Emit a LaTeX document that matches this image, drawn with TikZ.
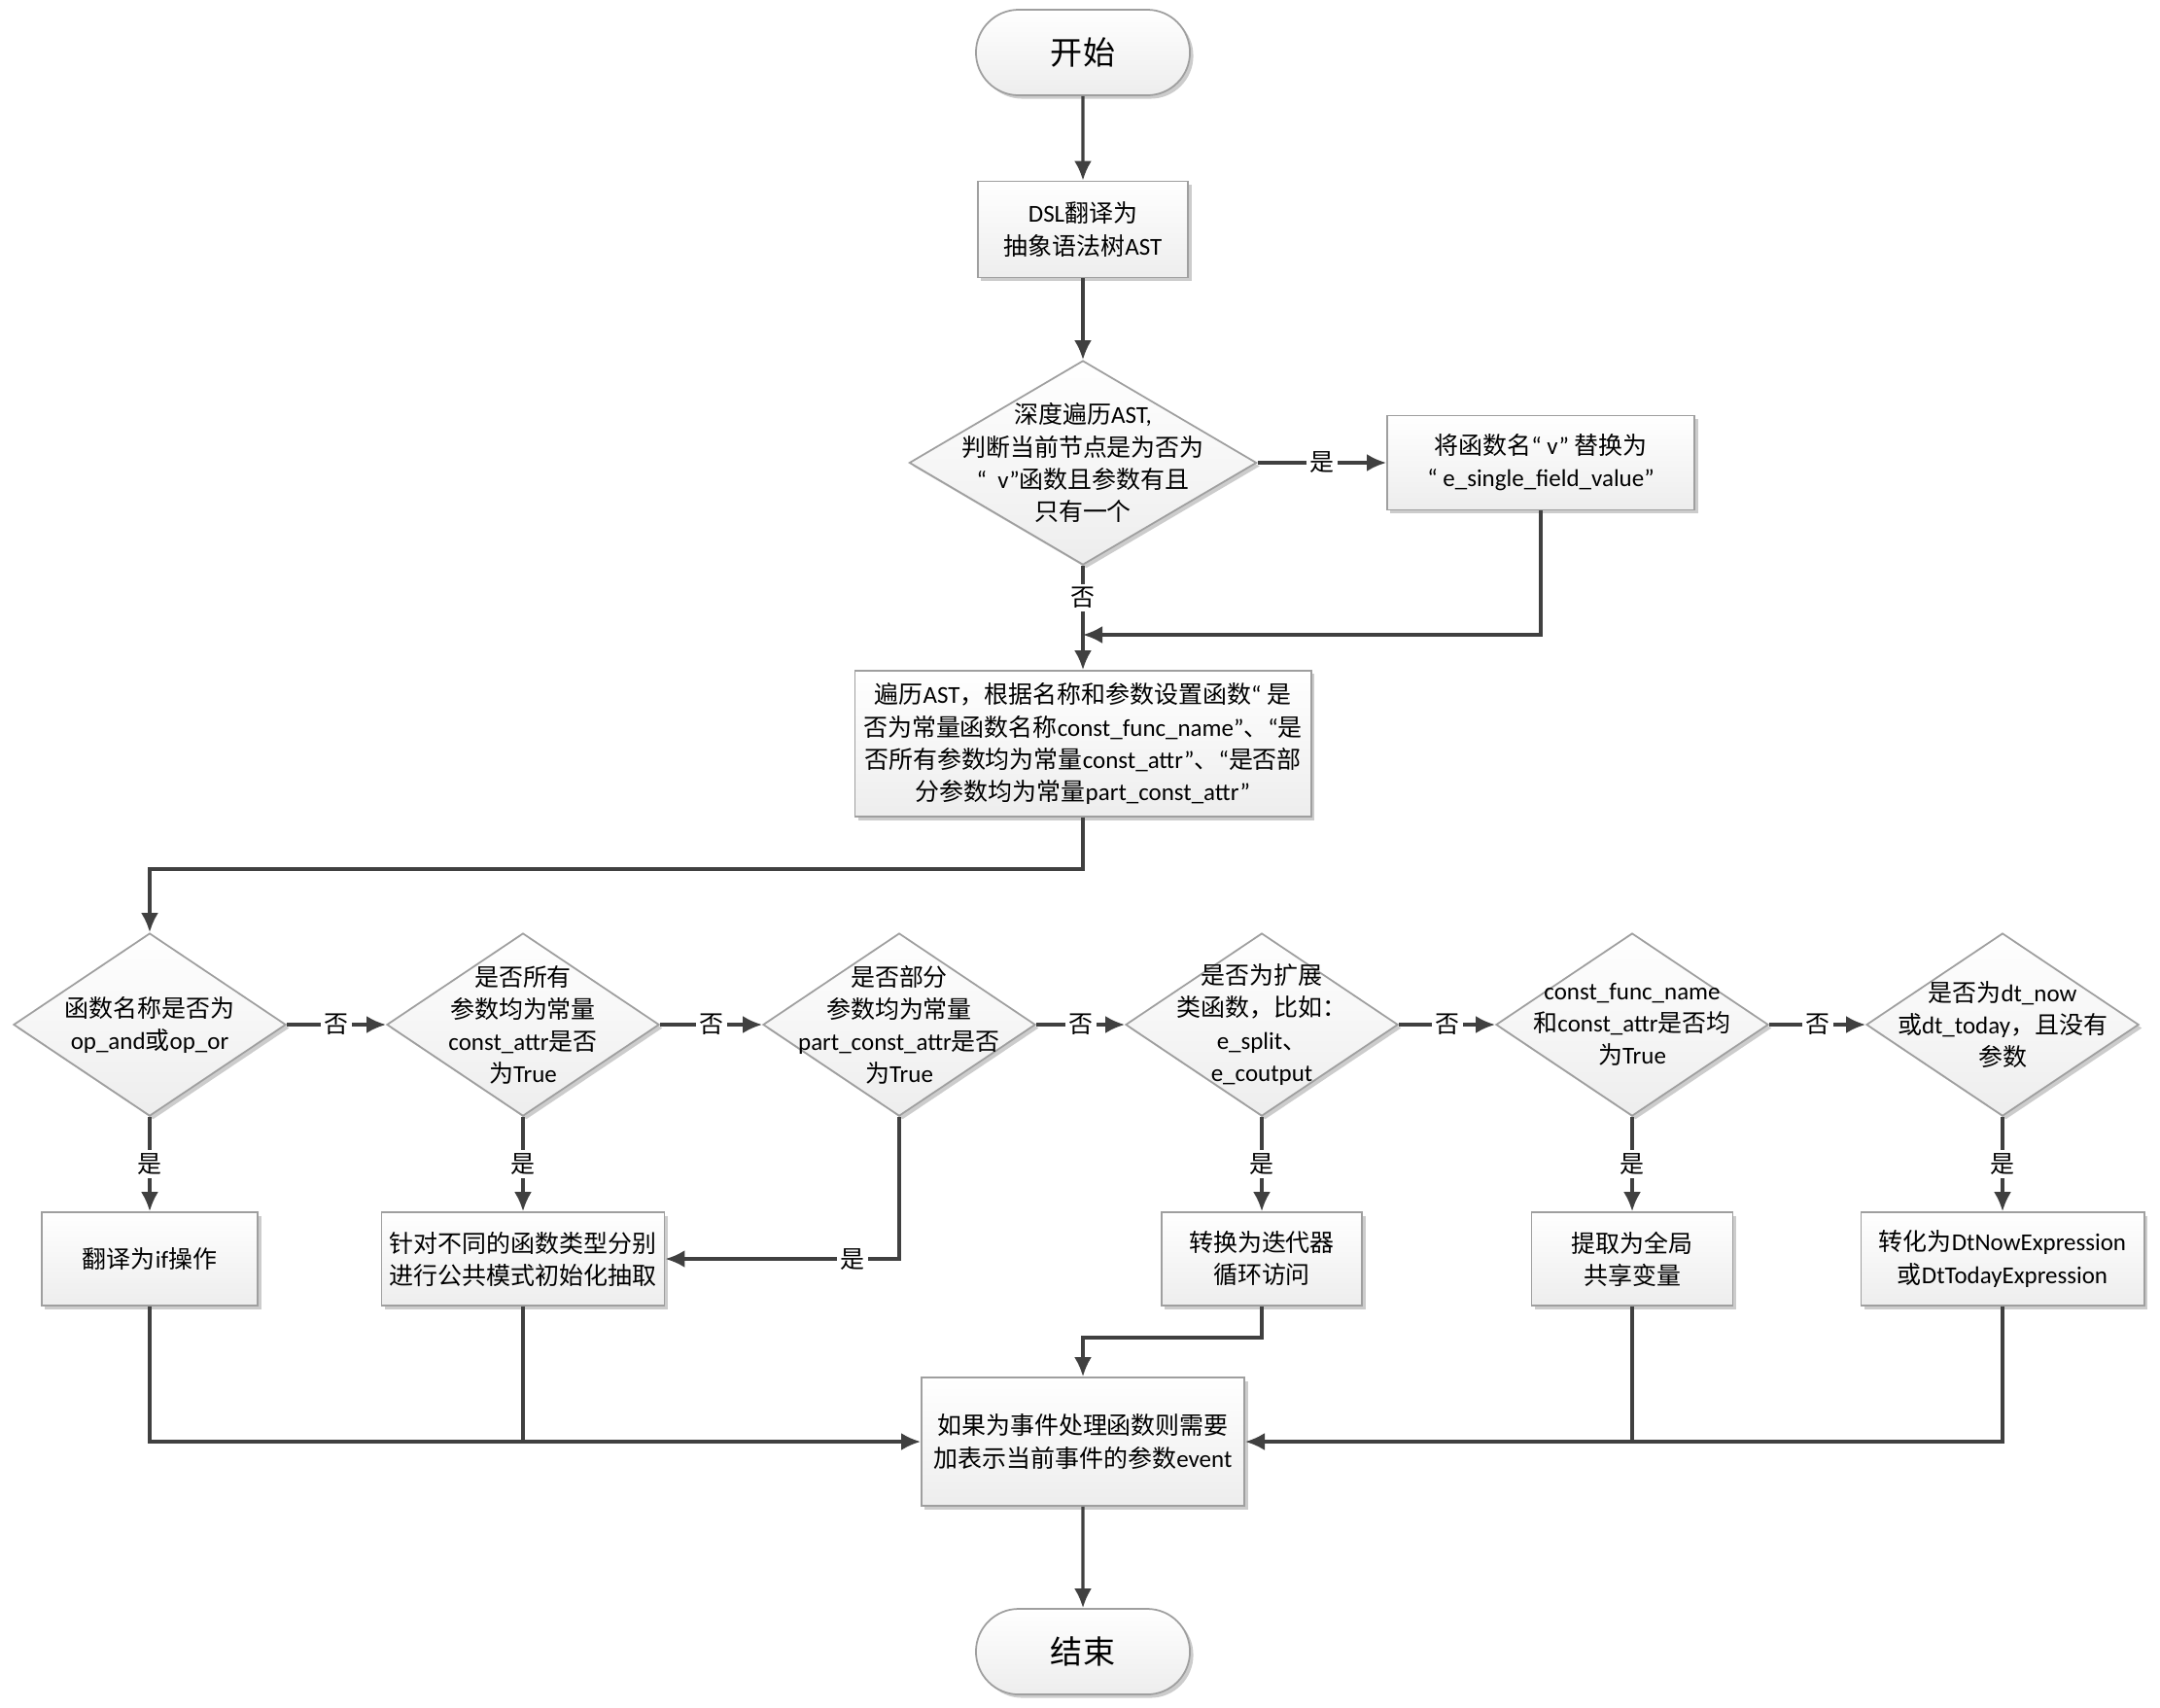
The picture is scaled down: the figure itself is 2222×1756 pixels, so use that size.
\documentclass[tikz,border=0pt]{standalone}
\usepackage{fontspec}
\setmainfont{Carlito}
\newfontfamily\latinfont{Carlito}
\newfontfamily\cjkfont{Noto Sans CJK SC}
\usepackage{tikz}
\usetikzlibrary{arrows.meta,calc,positioning,shapes.geometric,shapes.misc,shadows}

\definecolor{linegray}{HTML}{404040}

% switch to the CJK font for Chinese characters
\newcount\cjkcnt
\newcommand\cjkrange[2]{\cjkcnt=#1\relax
  \loop\XeTeXcharclass\cjkcnt=7\relax
  \ifnum\cjkcnt<#2\relax\advance\cjkcnt by 1\relax\repeat}
\cjkrange{"3000}{"303F}
\cjkrange{"4E00}{"9FFF}
\cjkrange{"FF00}{"FFEF}
\XeTeXcharclass"201C=0
\XeTeXcharclass"201D=0
\XeTeXinterchartoks 0 7 = {\cjkfont}
\XeTeXinterchartoks 4095 7 = {\cjkfont}
\XeTeXinterchartoks 7 0 = {\latinfont}
\XeTeXinterchartoks 7 4095 = {\latinfont}
\XeTeXinterchartokenstate=1

\begin{document}
\begin{tikzpicture}[x=0.01cm,y=-0.01cm,
  font=\fontsize{7.1pt}{9.4pt}\selectfont,
  arr/.style={draw=linegray,line width=0.9pt,-{Latex[length=2mm,width=1.8mm]}},
  link/.style={draw=linegray,line width=0.9pt},
  box/.style={rectangle,draw=gray!75,line width=0.5pt,top color=white,bottom color=gray!14,
    drop shadow={shadow xshift=0.35mm,shadow yshift=-0.35mm,fill=black!20,opacity=1},
    align=center,inner sep=0pt},
  term/.style={box,rounded rectangle,minimum width=2.2cm,minimum height=0.88cm,
    font=\fontsize{9.4pt}{11pt}\selectfont},
  decision/.style={box,diamond,minimum width=2.8cm,minimum height=1.88cm},
  dtext/.style={align=center,inner sep=0pt},
  lbl/.style={fill=white,inner sep=1pt}]
  \useasboundingbox (0,0) rectangle (2222,1756);

  % top part
  \node[term] (start) at (1114,54) {开始};
  \node[box,minimum width=2.16cm,minimum height=0.99cm] (dsl) at (1114,236) {DSL翻译为\\抽象语法树AST};
  \node[decision,minimum width=3.57cm,minimum height=2.1cm] (chk) at (1114,476) {};
  \node[dtext] (chk-t) at (chk) {深度遍历AST,\\判断当前节点是为否为\\“\ \ v”函数且参数有且\\只有一个};
  \node[box,minimum width=3.16cm,minimum height=0.97cm] (rename) at (1585,476) {将函数名“\ v”\ 替换为\\“\ e\_single\_field\_value”};
  \node[box,minimum width=4.69cm,minimum height=1.5cm] (attrs) at (1114,765) {遍历AST，根据名称和参数设置函数“\ 是\\否为常量函数名称const\_func\_name”、“是\\否所有参数均为常量const\_attr”、“是否部\\分参数均为常量part\_const\_attr”};
  \coordinate (m0) at (1114,653);
  \coordinate (m1) at (154,894);

  % row of decisions
  \node[decision] (q1) at (154,1054) {};
  \node[dtext] (q1-t) at (q1) {函数名称是否为\\op\_and或op\_or};
  \node[decision] (q2) at (538,1054) {};
  \node[dtext] (q2-t) at (q2) {是否所有\\参数均为常量\\const\_attr是否\\为True};
  \node[decision] (q3) at (925,1054) {};
  \node[dtext] (q3-t) at (q3) {是否部分\\参数均为常量\\part\_const\_attr是否\\为True};
  \node[decision] (q4) at (1298,1054) {};
  \node[dtext] (q4-t) at (q4) {是否为扩展\\类函数，比如：\\e\_split、\\e\_coutput};
  \node[decision] (q5) at (1679,1054) {};
  \node[dtext] (q5-t) at (q5) {const\_func\_name\\和const\_attr是否均\\为True};
  \node[decision] (q6) at (2060,1054) {};
  \node[dtext] (q6-t) at (q6) {是否为dt\_now\\或dt\_today，且没有\\参数};

  % row of actions
  \node[box,minimum width=2.22cm,minimum height=0.96cm] (a1) at (154,1295) {翻译为if操作};
  \node[box,minimum width=2.91cm,minimum height=0.96cm] (a2) at (538,1295) {针对不同的函数类型分别\\进行公共模式初始化抽取};
  \node[box,minimum width=2.06cm,minimum height=0.96cm] (a4) at (1298,1295) {转换为迭代器\\循环访问};
  \node[box,minimum width=2.07cm,minimum height=0.96cm] (a5) at (1679,1295) {提取为全局\\共享变量};
  \node[box,minimum width=2.91cm,minimum height=0.96cm] (a6) at (2060,1295) {转化为DtNowExpression\\或DtTodayExpression};

  % bottom part
  \node[box,minimum width=3.32cm,minimum height=1.32cm] (evt) at (1114,1483) {如果为事件处理函数则需要\\加表示当前事件的参数event};
  \node[term] (end) at (1114,1699) {结束};

  % connectors
  \draw[arr] (start) -- (dsl);
  \draw[arr] (dsl) -- (chk);
  \draw[arr] (chk) -- node[lbl] (y0) {是} (rename);
  \draw[arr] (chk) -- node[lbl,pos=0.31] (n0) {否} (attrs);
  \draw[arr] (rename) |- (m0);
  \draw[arr] (attrs) |- (m1) -- (q1);
  \draw[arr] (q1) -- node[lbl] (n1) {否} (q2);
  \draw[arr] (q2) -- node[lbl] (n2) {否} (q3);
  \draw[arr] (q3) -- node[lbl] (n3) {否} (q4);
  \draw[arr] (q4) -- node[lbl] (n4) {否} (q5);
  \draw[arr] (q5) -- node[lbl] (n5) {否} (q6);
  \draw[arr] (q1) -- node[lbl] (y1) {是} (a1);
  \draw[arr] (q2) -- node[lbl] (y2) {是} (a2);
  \draw[arr] (q3) |- node[lbl,pos=0.6] (y3) {是} (a2);
  \draw[arr] (q4) -- node[lbl] (y4) {是} (a4);
  \draw[arr] (q5) -- node[lbl] (y5) {是} (a5);
  \draw[arr] (q6) -- node[lbl] (y6) {是} (a6);
  \draw[arr] (a1) |- (evt);
  \draw[link] (a2) -- (a2 |- evt);
  \draw[arr] (a4.south) -- ++(0,32) -| (evt);
  \draw[arr] (a6) |- (evt);
  \draw[link] (a5) -- (a5 |- evt);
  \draw[arr] (evt) -- (end);
\end{tikzpicture}
\end{document}
